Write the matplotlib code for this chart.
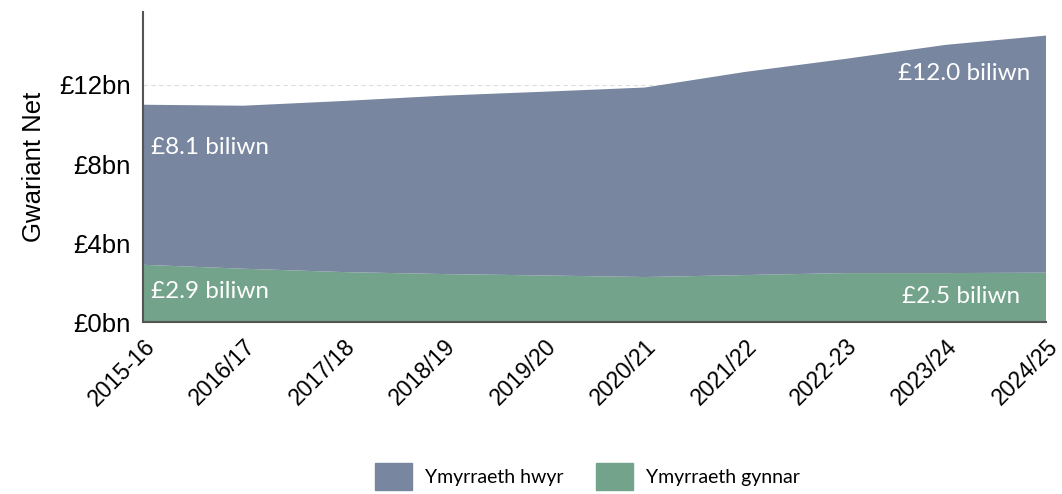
import matplotlib.pyplot as plt
import matplotlib.transforms as mtransforms
from matplotlib.patches import Patch

years = ['2015-16', '2016/17', '2017/18', '2018/19', '2019/20',
         '2020/21', '2021/22', '2022-23', '2023/24', '2024/25']
# net spend, £bn
early = [2.9, 2.70, 2.53, 2.43, 2.36, 2.28, 2.38, 2.48, 2.48, 2.5]
late = [8.1, 8.25, 8.66, 9.03, 9.30, 9.59, 10.28, 10.84, 11.55, 12.0]
yticks = [0, 4, 8, 12]

c_late = '#7886a0'
c_early = '#74a38b'
lab_font = 'Lato'
tick_font = 'Liberation Sans'

fig = plt.figure(figsize=(10.62, 4.94), dpi=100)
ax = fig.add_axes([0.1347, 0.348, 0.8503, 0.628])

x = list(range(len(years)))
ax.stackplot(x, early, late, colors=[c_early, c_late], zorder=2,
             edgecolor='none')
ax.set_xlim(0, len(years) - 1)
ax.set_ylim(0, 15.7)

ax.set_yticks(yticks)
ax.set_yticklabels(['£%dbn' % v for v in yticks], fontsize=18.5, family=tick_font)
ax.set_xticks(x)
ax.set_xticklabels(years, rotation=45, ha='right', rotation_mode='anchor',
                   fontsize=16.5, family=tick_font)
# nudge the slanted year labels a little to the right
shift = mtransforms.ScaledTranslation(6 / 72, 0, fig.dpi_scale_trans)
for lbl in ax.get_xticklabels():
    lbl.set_transform(lbl.get_transform() + shift)
ax.tick_params(axis='y', length=0, pad=9)
ax.tick_params(axis='x', length=0, pad=9)
ax.yaxis.grid(True, linestyle=(0, (4, 3)), color='#dddddd', lw=0.8, zorder=1)
ax.set_axisbelow(True)
for s in ['top', 'right']:
    ax.spines[s].set_visible(False)
for s in ['left', 'bottom']:
    ax.spines[s].set_color('#555555')
    ax.spines[s].set_linewidth(1.5)
    ax.spines[s].set_zorder(3)

ax.set_ylabel('Gwariant Net', fontsize=18.5, family=tick_font, labelpad=9)

# value labels at the ends of each band
fs = 17.5
ax.text(0.08, 8.86, '£%.1f biliwn' % late[0], color='white',
        fontsize=fs, family=lab_font, va='center', zorder=4)
ax.text(0.08, 1.57, '£%.1f biliwn' % early[0], color='white',
        fontsize=fs, family=lab_font, va='center', zorder=4)
ax.text(len(years) - 1.16, 12.56, '£%.1f biliwn' % late[-1],
        color='white', fontsize=fs, family=lab_font, va='center', ha='right',
        zorder=4)
ax.text(len(years) - 1.26, 1.27, '£%.1f biliwn' % early[-1],
        color='white', fontsize=fs, family=lab_font, va='center', ha='right',
        zorder=4)

handles = [Patch(color=c_late, label='Ymyrraeth hwyr'),
           Patch(color=c_early, label='Ymyrraeth gynnar')]
fig.legend(handles=handles, loc='center', bbox_to_anchor=(0.553, 0.036),
           ncol=2, frameon=False, prop={'family': lab_font, 'size': 14},
           handlelength=1.9, handleheight=1.75, handletextpad=0.67,
           columnspacing=1.7, borderpad=0)

fig.savefig('out.png', dpi=100)
